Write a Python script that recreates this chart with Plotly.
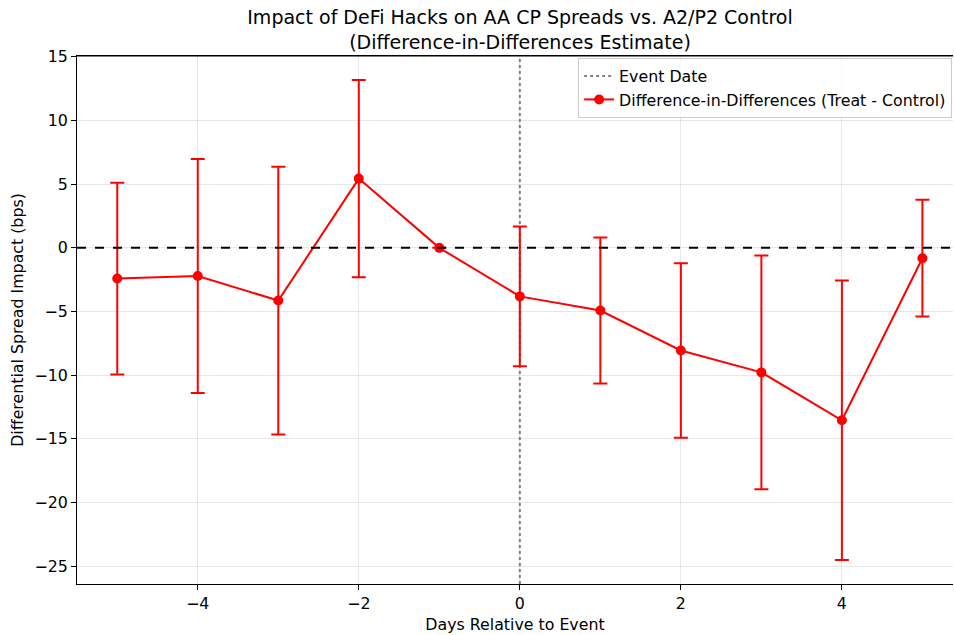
import plotly.graph_objects as go

days = [-5, -4, -3, -2, -1, 0, 1, 2, 3, 4, 5]
did_estimate = [-2.41, -2.21, -4.14, 5.44, 0.0, -3.81, -4.92, -8.06, -9.78, -13.54, -0.81]
did_ci = [7.53, 9.19, 10.52, 7.74, None, 5.48, 5.73, 6.85, 9.18, 10.98, 4.58]
event_day = 0
x_ticks = [-4, -2, 0, 2, 4]
y_ticks = [-25, -20, -15, -10, -5, 0, 5, 10, 15]
x_range = [-5.5, 5.38]
y_range = [-26.4, 15.07]

title_text = "Impact of DeFi Hacks on AA CP Spreads vs. A2/P2 Control<br>(Difference-in-Differences Estimate)"

FONT = "DejaVu Sans"
FS = 15.8

fig = go.Figure()

fig.add_trace(go.Scatter(
    x=[event_day, event_day], y=y_range,
    mode="lines",
    line=dict(color="gray", width=2, dash="dot"),
    name="Event Date",
    hoverinfo="skip",
))

fig.add_trace(go.Scatter(
    x=days, y=did_estimate,
    mode="lines+markers",
    line=dict(color="red", width=2),
    marker=dict(color="red", size=10),
    error_y=dict(type="data", array=did_ci, color="red", thickness=2, width=7, visible=True),
    name="Difference-in-Differences (Treat - Control)",
))

fig.add_hline(y=0, line=dict(color="black", width=2, dash="dash"), layer="above")

fig.update_layout(
    width=954, height=635,
    margin=dict(l=77, r=1, t=56, b=51),
    paper_bgcolor="white",
    plot_bgcolor="white",
    font=dict(family=FONT, size=FS, color="black"),
    title=dict(
        text=title_text,
        x=520 / 954, xanchor="center",
        y=0.962, yanchor="top",
        font=dict(family=FONT, size=19, color="black"),
    ),
    showlegend=True,
    legend=dict(
        x=0.999, y=0.996, xanchor="right", yanchor="top",
        bgcolor="rgba(255,255,255,0.8)",
        bordercolor="#cccccc", borderwidth=1,
        font=dict(family=FONT, size=FS, color="black"),
        tracegroupgap=0,
        itemwidth=30,
    ),
)

fig.update_xaxes(
    range=x_range,
    tickvals=x_ticks,
    showgrid=True, gridcolor="rgba(176,176,176,0.3)", gridwidth=1,
    zeroline=False,
    showline=True, linecolor="black", linewidth=1.2, mirror=True,
    ticks="outside", ticklen=5, tickcolor="black", tickwidth=1,
    tickfont=dict(family=FONT, size=FS, color="black"),
    title=dict(text="Days Relative to Event", font=dict(family=FONT, size=FS, color="black"), standoff=6),
)
fig.update_yaxes(
    range=y_range,
    tickvals=y_ticks,
    showgrid=True, gridcolor="rgba(176,176,176,0.3)", gridwidth=1,
    zeroline=False,
    showline=True, linecolor="black", linewidth=1.2, mirror=False,
    ticks="outside", ticklen=5, tickcolor="black", tickwidth=1,
    tickfont=dict(family=FONT, size=FS, color="black"),
    title=dict(text="Differential Spread Impact (bps)", font=dict(family=FONT, size=FS, color="black"), standoff=6),
)

# top spine
fig.add_shape(type="line", xref="paper", yref="paper", x0=0, x1=1, y0=1, y1=1,
              line=dict(color="black", width=1.2))

fig.write_html(
    "out.html",
    config={"displayModeBar": False},
    post_script="document.body.style.margin='0';document.body.style.overflow='hidden';",
)
